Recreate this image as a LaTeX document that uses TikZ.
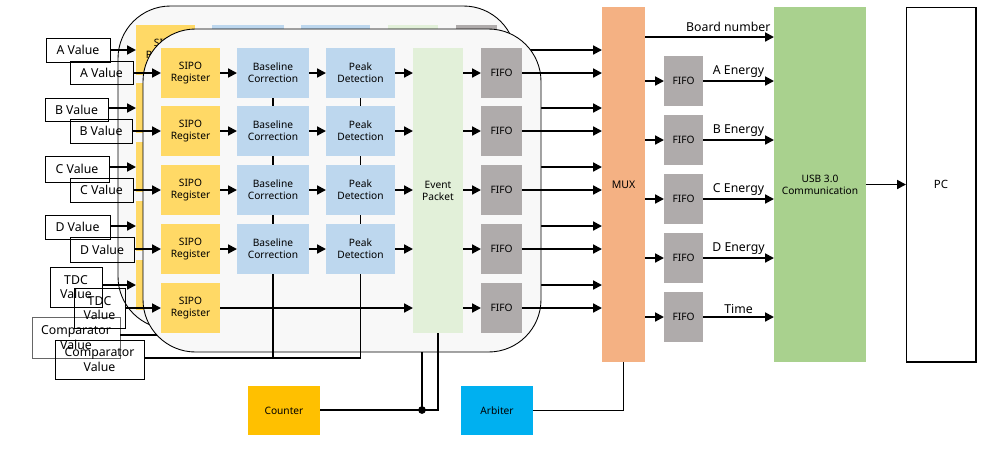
\documentclass[tikz,border=0pt]{standalone}
\usepackage{fontspec}
\setmainfont{Noto Sans}
\usetikzlibrary{arrows.meta}
\definecolor{sipoY}{HTML}{FFD966}
\definecolor{blueB}{HTML}{BDD7EE}
\definecolor{evG}{HTML}{E2F0D9}
\definecolor{fifoG}{HTML}{AFABAB}
\definecolor{muxO}{HTML}{F4B183}
\definecolor{usbG}{HTML}{A9D18E}
\definecolor{cntY}{HTML}{FFC000}
\definecolor{arbB}{HTML}{00B0F0}
\definecolor{panelF}{HTML}{F8F8F8}
\newcommand\mybx[7]{\node[#6, minimum width={((#4)-(#2))*0.02cm}, minimum height={((#5)-(#3))*0.02cm}] (#1) at ({((#2)+(#4))/2},{((#3)+(#5))/2}) {#7};}
\tikzset{
 bbase/.style={inner sep=0pt, outer sep=0pt, align=center, font=\fontsize{5.8}{6.9}\selectfont},
 sipo/.style={bbase, fill=sipoY},
 blu/.style={bbase, fill=blueB},
 evp/.style={bbase, fill=evG},
 fifo/.style={bbase, fill=fifoG},
 inb/.style={bbase, draw, line width=0.5pt, font=\fontsize{7}{8.2}\selectfont},
 lbl/.style={inner sep=1.5pt, font=\fontsize{7}{8.2}\selectfont},
 arr/.style={line width=1.1pt, -{Triangle[length=5pt,width=5pt]}},
 ln/.style={line width=1.1pt},
 panel/.style={draw, line width=0.5pt, fill=panelF, rounded corners=1.05cm},
}
\newcommand\panelbody[1]{%
 \draw[panel] (143,29) rectangle (541,352);
 \foreach \rr/\yy in {1/73,2/131,3/190,4/249,5/308}{
   \mybx{#1sipo\rr}{161}{\yy-25}{220}{\yy+25}{sipo}{SIPO\\Register}
   \mybx{#1fifo\rr}{481}{\yy-25}{522}{\yy+25}{fifo}{FIFO}
 }
 \foreach \rr/\yy in {1/73,2/131,3/190,4/249}{
   \mybx{#1base\rr}{237}{\yy-25}{309}{\yy+25}{blu}{Baseline\\Correction}
   \mybx{#1peak\rr}{326}{\yy-25}{395}{\yy+25}{blu}{Peak\\Detection}
 }
 \mybx{#1ev}{413}{48}{463}{333}{evp}{Event\\Packet}
 \foreach \rr in {1,...,4}{
   \draw[arr] (#1sipo\rr) -- (#1base\rr);
   \draw[arr] (#1base\rr) -- (#1peak\rr);
   \draw[arr] (#1peak\rr.east) -- (#1peak\rr.east -| #1ev.west);
 }
 \draw[arr] (#1sipo5.east) -- (#1sipo5.east -| #1ev.west);
 \foreach \rr in {1,...,5}{
   \draw[arr] (#1fifo\rr.west -| #1ev.east) -- (#1fifo\rr.west);
 }
 \foreach \pp/\qq in {1/2,2/3,3/4}{
   \draw[ln] (#1base\pp) -- (#1base\qq);
   \draw[ln] (#1peak\pp) -- (#1peak\qq);
 }
 \coordinate (#1bus) at (0,358);
 \draw[ln] (#1base4.south) -- (#1base4.south |- #1bus);
 \draw[ln] (#1peak4.south) -- (#1peak4.south |- #1bus);
}
\begin{document}
\begin{tikzpicture}[x=0.02cm,y=-0.02cm]
\useasboundingbox (0,0) rectangle (989,454);
% right-hand blocks
\mybx{mux}{602}{7}{645}{362}{bbase, fill=muxO, font=\fontsize{6}{7}\selectfont}{MUX}
\mybx{usb}{774}{7}{866}{362}{bbase, fill=usbG}{USB 3.0\\Communication}
\mybx{pc}{906}{7}{976}{362}{bbase, draw, line width=0.5pt, font=\fontsize{6.5}{7.5}\selectfont}{PC}
\draw[line width=1pt] (pc.north east) -- (pc.south east) -- (pc.south west);
\mybx{cnt}{248}{386}{320}{435}{bbase, fill=cntY}{Counter}
\mybx{arb}{461}{386}{533}{435}{bbase, fill=arbB}{Arbiter}
\foreach \rr/\yy/\lab in {1/81/A Energy,2/140/B Energy,3/199/C Energy,4/258/D Energy,5/317/Time}{
  \mybx{rf\rr}{664}{\yy-25}{703}{\yy+25}{fifo}{FIFO}
  \draw[arr] (rf\rr.west -| mux.east) -- (rf\rr.west);
  \draw[arr] (rf\rr.east) -- node[lbl, above]{\lab} (rf\rr.east -| usb.west);
}
\coordinate (bny) at (700,37);
\draw[arr] (mux.east |- bny) -- node[lbl, pos=1, anchor=south east, yshift=1pt]{Board number} (usb.west |- bny);
\draw[arr] (usb) -- (pc);
% back panel
\begin{scope}[shift={(-25,-23)}]
 \panelbody{b}
\end{scope}
\mybx{bA}{46}{38}{110}{62}{inb}{A Value}
\mybx{bB}{45}{98}{108}{121}{inb}{B Value}
\mybx{bC}{45}{156}{109}{182}{inb}{C Value}
\mybx{bD}{45}{215}{110}{239}{inb}{D Value}
\mybx{bT}{50}{267}{102}{307}{inb}{TDC\\Value}
\mybx{bCmp}{32}{317}{120}{358}{inb, draw=black!60}{Comparator\\Value}
\foreach \nm/\rr in {bA/1,bB/2,bC/3,bD/4,bT/5}{
  \draw[arr] (\nm.east |- bsipo\rr) -- (bsipo\rr.west);
}
\draw[ln] (bCmp.east |- bbus) -- (bpeak4.south |- bbus);
\foreach \rr in {1,...,5}{
  \draw[arr] (bfifo\rr.east) -- (bfifo\rr.east -| mux.west);
}
% front panel
\panelbody{f}
\foreach \rr in {1,...,5}{
  \draw[arr] (ffifo\rr.east) -- (ffifo\rr.east -| mux.west);
}
\mybx{fA}{70}{61}{133}{84}{inb}{A Value}
\mybx{fB}{70}{119}{132}{143}{inb}{B Value}
\mybx{fC}{70}{178}{133}{202}{inb}{C Value}
\mybx{fD}{70}{237}{134}{262}{inb}{D Value}
\mybx{fT}{74}{288}{125}{328}{inb}{TDC\\Value}
\mybx{fCmp}{55}{340}{144}{379}{inb}{Comparator\\Value}
\foreach \nm/\rr in {fA/1,fB/2,fC/3,fD/4,fT/5}{
  \draw[arr] (\nm.east |- fsipo\rr) -- (fsipo\rr.west);
}
\draw[ln] (fCmp.east |- fbus) -- (fpeak4.south |- fbus);
% counter and arbiter connections
\coordinate (dotc) at (422,410);
\coordinate (pbot) at (422,352);
\draw[ln] (cnt.east |- dotc) -- (dotc) -- (dotc -| fev.south) -- (fev.south);
\draw[ln] (dotc) -- (pbot);
\fill (dotc) circle[radius=2.2pt];
\draw[ln] (arb.east) -| (mux.south);
\end{tikzpicture}
\end{document}
